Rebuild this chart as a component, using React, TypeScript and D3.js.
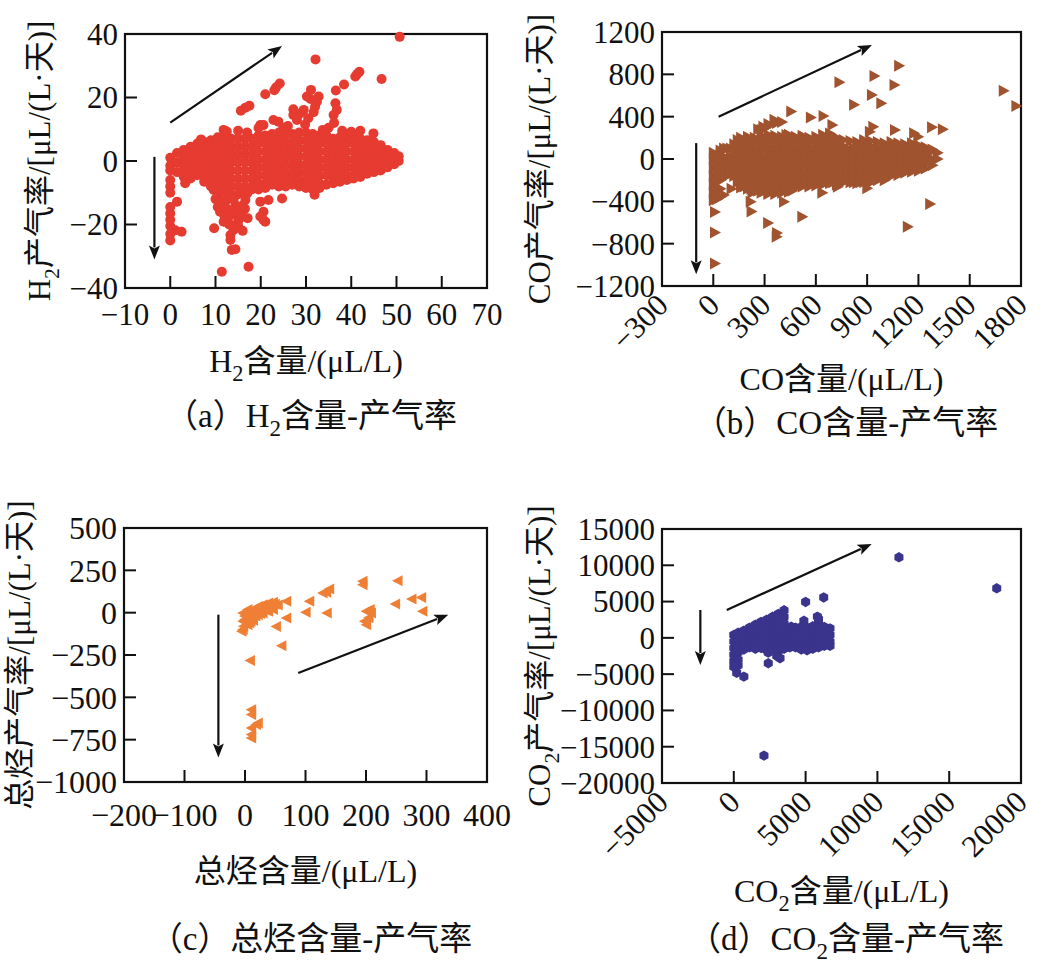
import React from "react";
import * as d3 from "d3";

type Pt = [number, number];
type Col = [number, number[]];

// ---------- (a) H2 ----------
const h2XLabels = [-10, 0, 10, 20, 30, 40, 50, 60, 70];
const h2XInner = [0, 10, 20, 30, 40, 50, 60];
const h2YLabels = [-40, -20, 0, 20, 40];
const h2YInner = [-20, 0, 20];
const h2Core: Col[] = [
  [0, [1, -1.5, -3]],
  [1.5, [2.5, -0.5, -3.5]],
  [3, [3.5, 1, -1.5, -4, -5]],
  [4.5, [4.5, 2, -0.5, -3, -5.5]],
  [6, [5.5, 3, 0.5, -2, -4.5]],
  [7.5, [6, 3.5, 1, -1.5, -4, -6.5]],
  [9, [6.5, 4, 1.5, -1, -3.5, -6, -8]],
  [10.5, [7.5, 5, 2.5, 0, -2.5, -5, -7.5, -9]],
  [12, [8, 5.5, 3, 0.5, -2, -4.5, -7, -9.5]],
  [13.5, [7, 4.5, 2, -0.5, -3, -5.5, -8, -10.5]],
  [15, [7, 4.5, 2, -0.5, -3, -5.5, -8, -10.5]],
  [16.5, [7, 4.5, 2, -0.5, -3, -5.5, -8, -10]],
  [18, [7, 4.5, 2, -0.5, -3, -5.5, -8, -9]],
  [19.5, [8, 5.5, 3, 0.5, -2, -4.5, -7, -9]],
  [21, [8, 5.5, 3, 0.5, -2, -4.5, -7, -8.5]],
  [22.5, [8.5, 6, 3.5, 1, -1.5, -4, -6.5, -7.5]],
  [24, [9, 6.5, 4, 1.5, -1, -3.5, -6, -8]],
  [25.5, [8.5, 6, 3.5, 1, -1.5, -4, -6.5, -8]],
  [27, [8.5, 6, 3.5, 1, -1.5, -4, -6.5, -7.5]],
  [28.5, [9, 6.5, 4, 1.5, -1, -3.5, -6, -8]],
  [30, [9, 6.5, 4, 1.5, -1, -3.5, -6, -8.5]],
  [31.5, [8.5, 6, 3.5, 1, -1.5, -4, -6.5, -9]],
  [33, [8, 5.5, 3, 0.5, -2, -4.5, -7, -8.5]],
  [34.5, [8, 5.5, 3, 0.5, -2, -4.5, -7.5]],
  [36, [7, 4.5, 2, -0.5, -3, -5.5, -7]],
  [37.5, [7.5, 5, 2.5, 0, -2.5, -5, -6.5]],
  [39, [8, 5.5, 3, 0.5, -2, -4.5, -6]],
  [40.5, [8, 5.5, 3, 0.5, -2, -4.5, -5.5]],
  [42, [7, 4.5, 2, -0.5, -3, -5]],
  [43.5, [6.5, 4, 1.5, -1, -3.5, -4]],
  [45, [6, 3.5, 1, -1.5, -3.5]],
  [46.5, [5, 2.5, 0, -2.5, -3]],
  [48, [3.5, 1, -1.5, -2]],
  [49.5, [2.5, 0, -1]],
  [50.5, [1.5, 0]],
];
const h2Outliers: Pt[] = [
  [50.7, 39.1], [32.1, 32.0], [41.8, 28.1], [41.3, 27.4], [40.9, 26.6], [46.7, 25.8],
  [38.4, 24.1], [36.6, 22.2], [24.2, 24.4], [23.4, 23.2], [23.0, 22.3], [21.0, 21.0],
  [17.5, 17.4], [16.6, 16.8], [15.6, 15.8], [31.1, 22.4], [32.8, 20.3], [32.4, 18.7],
  [32.0, 17.1], [31.7, 15.4], [31.0, 19.5], [30.2, 20.3], [29.5, 16.1], [28.7, 15.0],
  [27.2, 16.3], [27.2, 14.5], [28.0, 12.9], [36.5, 18.2], [36.8, 16.1], [36.1, 14.5],
  [36.2, 12.0], [33.7, 9.8], [22.8, 12.9], [23.9, 12.4], [19.9, 11.3], [20.6, 11.3],
  [19.5, 10.4], [11.8, 9.8], [12.5, 9.3], [6.8, 6.8], [44.9, 8.7], [30.5, 13.5],
  [29.8, 11.5], [26, 11], [25, 10.5], [35, 10.5], [38, 9.5], [40, 9.2], [42, 9.5],
  [15, 9.5], [17, 9],
  [0, -6], [0, -8], [0, -10], [1.5, -12.8], [0, -14.5], [0, -16.5], [0, -18.5],
  [0, -20.5], [1.1, -21.8], [2.5, -22.3], [0, -23], [0, -25], [3.3, -7], [9.7, -21.2],
  [13.3, -23.3], [13.6, -28], [14.4, -27.8], [11.4, -34.9], [17.3, -33.3], [11.0, -16],
  [11.8, -19.1], [13.6, -20.2], [14.7, -17], [17.1, -18], [15.8, -15.4], [10.7, -11.2],
  [9.6, -9.1], [12.5, -12.3], [16.6, -12.3], [17.0, -10.2], [14.4, -13.9], [14.0, -21.7],
  [13.3, -24.9], [12.5, -15], [13, -17.5], [15, -19], [16, -22], [19.9, -12.8],
  [20.6, -16], [19.9, -17.5], [21.0, -19.1], [21.7, -12.3], [20.6, -18.6], [24.7, -11.8],
  [31.9, -10.6], [11.5, -13], [14, -15.5], [16, -14], [10, -12], [14, -12], [10.5, -14.5],
  [16.5, -15], [12, -17.5], [16, -17.5], [13, -20], [15, -20.5],
];
const h2Arrows: [number, number, number, number][] = [
  [0, 12.1, 24.7, 36.2],
  [-3.5, 1.3, -3.5, -31],
];

// ---------- (b) CO ----------
const coXLabels = [-300, 0, 300, 600, 900, 1200, 1500, 1800];
const coXInner = [0, 300, 600, 900, 1200, 1500];
const coYLabels = [-1200, -800, -400, 0, 400, 800, 1200];
const coYInner = [-800, -400, 0, 400, 800];
const coCore: Col[] = [
  [0, [60, 0, -80, -160, -240, -320, -390]],
  [40, [80, 40, -40, -120, -200, -280, -360]],
  [80, [100, 0, -80, -160]],
  [120, [140, 40, -40, -120, -160]],
  [160, [200, 160, 80, 0, -80, -160, -240, -270]],
  [200, [210, 120, 40, -40, -120, -200, -280]],
  [240, [200, 160, 80, 0, -80, -160, -240, -290]],
  [280, [220, 120, 40, -40, -120, -200, -280, -320]],
  [320, [230, 160, 80, 0, -80, -160, -240, -320, -330]],
  [360, [220, 120, 40, -40, -120, -200, -280, -330]],
  [400, [210, 160, 80, 0, -80, -160, -240, -320]],
  [440, [230, 200, 120, 40, -40, -120, -200, -280, -310]],
  [480, [210, 160, 80, 0, -80, -160, -240, -270]],
  [520, [220, 200, 120, 40, -40, -120, -200, -260]],
  [560, [200, 160, 80, 0, -80, -160, -240, -260]],
  [600, [210, 120, 40, -40, -120, -200, -250]],
  [640, [230, 160, 80, 0, -80, -160, -240]],
  [680, [240, 200, 120, 40, -40, -120, -200, -230]],
  [720, [200, 160, 80, 0, -80, -160, -240]],
  [760, [180, 120, 40, -40, -120, -200, -220]],
  [800, [170, 80, 0, -80, -160, -220]],
  [840, [160, 120, 40, -40, -120, -200, -230]],
  [880, [180, 160, 80, 0, -80, -160, -220]],
  [920, [170, 120, 40, -40, -120, -200, -220]],
  [960, [160, 80, 0, -80, -160, -200]],
  [1000, [150, 120, 40, -40, -120, -200]],
  [1040, [160, 80, 0, -80, -160]],
  [1080, [150, 120, 40, -40, -120, -150]],
  [1120, [140, 80, 0, -80, -130]],
  [1160, [150, 120, 40, -40, -120]],
  [1200, [130, 80, 0, -80, -110]],
  [1240, [110, 40, -40, -90]],
  [1280, [90, 0, -60]],
  [1310, [60, 0]],
];
const coCoreFill: Col[] = [
  [20, [20, -60, -140, -220, -300, -380]],
  [60, [100, 20, -60, -140]],
  [100, [100, 20, -60, -140]],
  [140, [180, 100, 20, -60, -140, -220]],
  [180, [180, 100, 20, -60, -140, -220, -260]],
  [220, [180, 100, 20, -60, -140, -220, -280]],
  [260, [180, 100, 20, -60, -140, -220, -300]],
  [300, [180, 100, 20, -60, -140, -220, -300]],
  [340, [180, 100, 20, -60, -140, -220, -300]],
  [380, [180, 100, 20, -60, -140, -220, -300]],
  [420, [180, 100, 20, -60, -140, -220, -300]],
  [460, [180, 100, 20, -60, -140, -220, -300]],
  [500, [180, 100, 20, -60, -140, -220]],
  [540, [180, 100, 20, -60, -140, -220]],
  [580, [180, 100, 20, -60, -140, -220]],
  [620, [180, 100, 20, -60, -140, -220]],
  [660, [180, 100, 20, -60, -140, -220]],
  [700, [180, 100, 20, -60, -140, -220]],
  [740, [180, 100, 20, -60, -140, -220]],
  [780, [100, 20, -60, -140, -200]],
  [820, [100, 20, -60, -140, -220]],
  [860, [100, 20, -60, -140, -220]],
  [900, [100, 20, -60, -140, -200]],
  [940, [100, 20, -60, -140, -200]],
  [980, [100, 20, -60, -140]],
  [1020, [100, 20, -60, -140]],
  [1060, [100, 20, -60, -140]],
  [1100, [100, 20, -60, -100]],
  [1140, [100, 20, -60, -100]],
  [1180, [100, 20, -60]],
  [1220, [100, 20, -60]],
  [1260, [60, -20]],
];
const coOutliers: Pt[] = [
  [1084, 880], [940, 784], [1057, 699], [735, 725], [925, 605], [980, 526], [821, 513],
  [1696, 646], [1770, 501], [453, 450], [568, 392], [642, 406], [355, 372], [400, 350],
  [290, 305], [280, 274], [694, 321], [933, 305], [913, 258], [1060, 274], [1277, 299],
  [1340, 281], [1172, 243], [1196, 211], [425, 227], [320, 330], [260, 280], [330, 320],
  [370, 340], [300, 290],
  [7, -501], [7, -695], [7, -987], [104, -282], [60, -340], [226, -318], [216, -403],
  [221, -495], [318, -605], [370, -699], [368, -734], [411, -403], [518, -545], [635, -318],
  [726, -262], [898, -277], [1266, -425], [1135, -640], [353, -277],
];
const coArrows: [number, number, number, number][] = [
  [31, 400, 928, 1077],
  [-100, 150, -100, -1090],
];

// ---------- (c) total hydrocarbons ----------
const thcXLabels = [-200, -100, 0, 100, 200, 300, 400];
const thcXInner = [-100, 0, 100, 200, 300];
const thcYLabels = [-1000, -750, -500, -250, 0, 250, 500];
const thcYInner = [-750, -500, -250, 0, 250];
const thcPoints: Pt[] = [
  [-3, -2], [-3, -51], [-3, -100], [-5, -110], [5, 18], [5, -31], [5, -71], [14, 18],
  [14, -31], [22, 37], [22, -12], [30, 47], [30, -2], [39, 57], [39, 8], [47, 61], [47, 18],
  [10, -10], [18, 5], [26, 20], [34, 30], [42, 40], [0, -20], [10, -50],
  [0, -40], [8, -60], [18, -20], [26, -5], [35, 15], [44, 30], [50, 50], [55, 45],
  [-2, -80], [12, 0], [20, 25], [28, 35], [36, 45], [14, -45], [6, 0],
  [69, 67], [69, -31], [52, -81], [61, -195], [9, -282], [11, -573], [11, -602], [19, -661],
  [11, -681], [11, -720], [22, -651], [11, -740],
  [107, 67], [101, 2], [136, -2], [135, 120], [140, 140], [129, 116], [195, 185], [195, 165],
  [253, 189], [201, 8], [207, 18], [198, -51], [201, -71], [209, -2], [249, 51], [276, 81],
  [292, 90], [294, 8], [205, -30],
];
const thcArrows: [number, number, number, number][] = [
  [88, -356, 336, -12],
  [-44, -12, -44, -855],
];

// ---------- (d) CO2 ----------
const co2XLabels = [-5000, 0, 5000, 10000, 15000, 20000];
const co2XInner = [0, 5000, 10000, 15000];
const co2YLabels = [-20000, -15000, -10000, -5000, 0, 5000, 10000, 15000];
const co2YInner = [-15000, -10000, -5000, 0, 5000, 10000];
const co2Core: Col[] = [
  [0, [400, -500, -1400, -2300, -3200, -4000]],
  [300, [700, -200, -1100, -2000, -3000, -3800]],
  [700, [1000, 100, -800, -1600]],
  [1100, [1400, 500, -400, -1300]],
  [1500, [1800, 900, 0, -900, -1500]],
  [1900, [2200, 1300, 400, -500, -1400]],
  [2300, [2500, 1600, 700, -200, -1100, -1700]],
  [2700, [2900, 2000, 1100, 200, -700, -1500]],
  [3100, [3300, 2400, 1500, 600, -300, -1200, -1800]],
  [3500, [3800, 2900, 2000, 1100, 200, -700, -1500]],
  [3900, [1300, 400, -500, -1300]],
  [4300, [1400, 500, -400, -1300]],
  [4700, [1500, 600, -300, -1200, -1600]],
  [5100, [1400, 500, -400, -1300, -1700]],
  [5500, [1600, 700, -200, -1100, -1500]],
  [5900, [2200, 1300, 400, -500, -1300]],
  [6300, [1500, 600, -300, -1100]],
  [6700, [1300, 400, -500, -1100]],
];
const co2Outliers: Pt[] = [
  [11500, 11100], [18310, 6830], [2100, -16230], [5000, 4950], [6260, 5570],
  [200, -4830], [700, -5340], [2400, -3500], [2400, -2040], [2990, -2500], [3220, -2800],
  [4880, 2350], [5820, 2920], [4000, 1540], [5900, 2600],
];
const co2Arrows: [number, number, number, number][] = [
  [-490, 3840, 9600, 12940],
  [-2330, 3840, -2330, -3740],
];

// ---------- rendering ----------
const FONT = "'Liberation Serif','Times New Roman','Noto Sans CJK SC',serif";

type Part = { t: string; sub?: boolean };

function Rich({ parts, size }: { parts: Part[]; size: number }) {
  const out: React.ReactNode[] = [];
  let shifted = false;
  parts.forEach((p, i) => {
    if (p.sub) {
      out.push(
        <tspan key={i} fontSize={size * 0.7} dy={size * 0.28}>
          {p.t}
        </tspan>
      );
      shifted = true;
    } else {
      out.push(
        <tspan key={i} dy={shifted ? -size * 0.28 : 0}>
          {p.t}
        </tspan>
      );
      shifted = false;
    }
  });
  return <>{out}</>;
}

const fmt = (v: number) => (v < 0 ? "\u2212" + Math.abs(v) : String(v));

function markerPath(shape: string): string {
  if (shape === "triRight") return "M-4.5,-6L6.5,0L-4.5,6Z";
  if (shape === "triLeft") return "M4.5,-5.5L-6,0L4.5,5.5Z";
  if (shape === "hex") {
    const r = 5.2;
    const pts = d3.range(6).map((i) => {
      const a = (Math.PI / 3) * i - Math.PI / 2;
      return [r * Math.cos(a), r * Math.sin(a)];
    });
    return "M" + pts.map((p) => p.join(",")).join("L") + "Z";
  }
  return "";
}

type PanelCfg = {
  left: number; right: number; top: number; bottom: number;
  xDomain: [number, number]; yDomain: [number, number];
  xLabels: number[]; xInner: number[]; yLabels: number[]; yInner: number[];
  rotX: boolean; tickFont: number; xLabelDy: number;
  color: string; shape: string; points: Pt[]; arrows: [number, number, number, number][];
  yTitle: Part[]; yTitleX: number; xTitle: Part[]; xTitleY: number;
  caption: Part[]; captionX: number; captionY: number;
};

function Arrow({ x1, y1, x2, y2 }: { x1: number; y1: number; x2: number; y2: number }) {
  const ang = Math.atan2(y2 - y1, x2 - x1);
  const hl = 14, hw = 5.5;
  const bx = x2 - hl * Math.cos(ang), by = y2 - hl * Math.sin(ang);
  const px = -Math.sin(ang) * hw, py = Math.cos(ang) * hw;
  return (
    <g>
      <line x1={x1} y1={y1} x2={bx + 2 * Math.cos(ang)} y2={by + 2 * Math.sin(ang)} stroke="#111" strokeWidth={2.2} />
      <path d={`M${x2},${y2}L${bx + px},${by + py}L${bx + 3 * Math.cos(ang)},${by + 3 * Math.sin(ang)}L${bx - px},${by - py}Z`} fill="#111" />
    </g>
  );
}

function Panel({ c }: { c: PanelCfg }) {
  const x = d3.scaleLinear().domain(c.xDomain).range([c.left, c.right]);
  const y = d3.scaleLinear().domain(c.yDomain).range([c.bottom, c.top]);
  const tick = 12;
  const midY = (c.top + c.bottom) / 2;
  const midX = (c.left + c.right) / 2;
  const mp = markerPath(c.shape);
  return (
    <g fontFamily={FONT} fill="#111">
      <rect x={c.left} y={c.top} width={c.right - c.left} height={c.bottom - c.top} fill="none" stroke="#111" strokeWidth={2.2} />
      {c.xInner.map((v) => (
        <line key={"xt" + v} x1={x(v)} x2={x(v)} y1={c.bottom} y2={c.bottom - tick} stroke="#111" strokeWidth={2} />
      ))}
      {c.yInner.map((v) => (
        <line key={"yt" + v} x1={c.left} x2={c.left + tick} y1={y(v)} y2={y(v)} stroke="#111" strokeWidth={2} />
      ))}
      {c.points.map(([px, py], i) =>
        c.shape === "circle" ? (
          <circle key={i} cx={x(px)} cy={y(py)} r={5} fill={c.color} />
        ) : (
          <path key={i} d={mp} transform={`translate(${x(px)},${y(py)})`} fill={c.color} />
        )
      )}
      {c.arrows.map(([a, b, d, e], i) => (
        <Arrow key={i} x1={x(a)} y1={y(b)} x2={x(d)} y2={y(e)} />
      ))}
      {c.yLabels.map((v) => (
        <text key={"yl" + v} x={c.left - 7} y={y(v)} dy="0.35em" textAnchor="end" fontSize={c.tickFont}>
          {fmt(v)}
        </text>
      ))}
      {c.xLabels.map((v) =>
        c.rotX ? (
          <text key={"xl" + v} transform={`translate(${x(v) + 8},${c.bottom + 21}) rotate(-45)`} textAnchor="end" fontSize={c.tickFont}>
            {fmt(v)}
          </text>
        ) : (
          <text key={"xl" + v} x={x(v)} y={c.bottom + c.xLabelDy} textAnchor="middle" fontSize={c.tickFont}>
            {fmt(v)}
          </text>
        )
      )}
      <text transform={`translate(${c.yTitleX},${midY}) rotate(-90)`} textAnchor="middle" fontSize={31}>
        <Rich parts={c.yTitle} size={31} />
      </text>
      <text x={midX} y={c.xTitleY} textAnchor="middle" fontSize={32}>
        <Rich parts={c.xTitle} size={32} />
      </text>
      <text x={c.captionX} y={c.captionY} textAnchor="middle" fontSize={33}>
        <Rich parts={c.caption} size={33} />
      </text>
    </g>
  );
}

const expand = (cols: Col[]): Pt[] => cols.flatMap(([px, ys]) => ys.map((py) => [px, py] as Pt));

const RATE = "/[μL/(L·天)]";
const CONTENT = "含量/(μL/L)";

const panels: PanelCfg[] = [
  {
    left: 125, right: 487, top: 34, bottom: 288,
    xDomain: [-10, 70], yDomain: [-40, 40],
    xLabels: h2XLabels, xInner: h2XInner, yLabels: h2YLabels, yInner: h2YInner,
    rotX: false, tickFont: 31, xLabelDy: 37,
    color: "#e63b30", shape: "circle", points: [...expand(h2Core), ...h2Outliers], arrows: h2Arrows,
    yTitle: [{ t: "H" }, { t: "2", sub: true }, { t: "产气率" + RATE }], yTitleX: 50,
    xTitle: [{ t: "H" }, { t: "2", sub: true }, { t: CONTENT }], xTitleY: 372,
    caption: [{ t: "（a）H" }, { t: "2", sub: true }, { t: "含量-产气率" }], captionX: 311, captionY: 427,
  },
  {
    left: 662, right: 1021, top: 32, bottom: 286,
    xDomain: [-300, 1800], yDomain: [-1200, 1200],
    xLabels: coXLabels, xInner: coXInner, yLabels: coYLabels, yInner: coYInner,
    rotX: true, tickFont: 31, xLabelDy: 0,
    color: "#a0532f", shape: "triRight", points: [...expand(coCore), ...expand(coCoreFill), ...coOutliers], arrows: coArrows,
    yTitle: [{ t: "CO产气率" + RATE }], yTitleX: 550,
    xTitle: [{ t: "CO" + CONTENT }], xTitleY: 390,
    caption: [{ t: "（b）CO含量-产气率" }], captionX: 846, captionY: 434,
  },
  {
    left: 124, right: 487, top: 528, bottom: 782,
    xDomain: [-200, 400], yDomain: [-1000, 500],
    xLabels: thcXLabels, xInner: thcXInner, yLabels: thcYLabels, yInner: thcYInner,
    rotX: false, tickFont: 32, xLabelDy: 44,
    color: "#f07f36", shape: "triLeft", points: thcPoints, arrows: thcArrows,
    yTitle: [{ t: "总烃产气率" + RATE }], yTitleX: 30,
    xTitle: [{ t: "总烃" + CONTENT }], xTitleY: 882,
    caption: [{ t: "（c）总烃含量-产气率" }], captionX: 311, captionY: 950,
  },
  {
    left: 662, right: 1021, top: 529, bottom: 783,
    xDomain: [-5000, 20000], yDomain: [-20000, 15000],
    xLabels: co2XLabels, xInner: co2XInner, yLabels: co2YLabels, yInner: co2YInner,
    rotX: true, tickFont: 31, xLabelDy: 0,
    color: "#3a348c", shape: "hex", points: [...expand(co2Core), ...co2Outliers], arrows: co2Arrows,
    yTitle: [{ t: "CO" }, { t: "2", sub: true }, { t: "产气率" + RATE }], yTitleX: 550,
    xTitle: [{ t: "CO" }, { t: "2", sub: true }, { t: CONTENT }], xTitleY: 902,
    caption: [{ t: "（d）CO" }, { t: "2", sub: true }, { t: "含量-产气率" }], captionX: 846, captionY: 950,
  },
];

export default function App() {
  return (
    <svg
      width={1048}
      height={972}
      style={{ position: "absolute", left: 0, top: 0, background: "#fff" }}
    >
      <rect width={1048} height={972} fill="#fff" />
      {panels.map((c, i) => (
        <Panel key={i} c={c} />
      ))}
    </svg>
  );
}
